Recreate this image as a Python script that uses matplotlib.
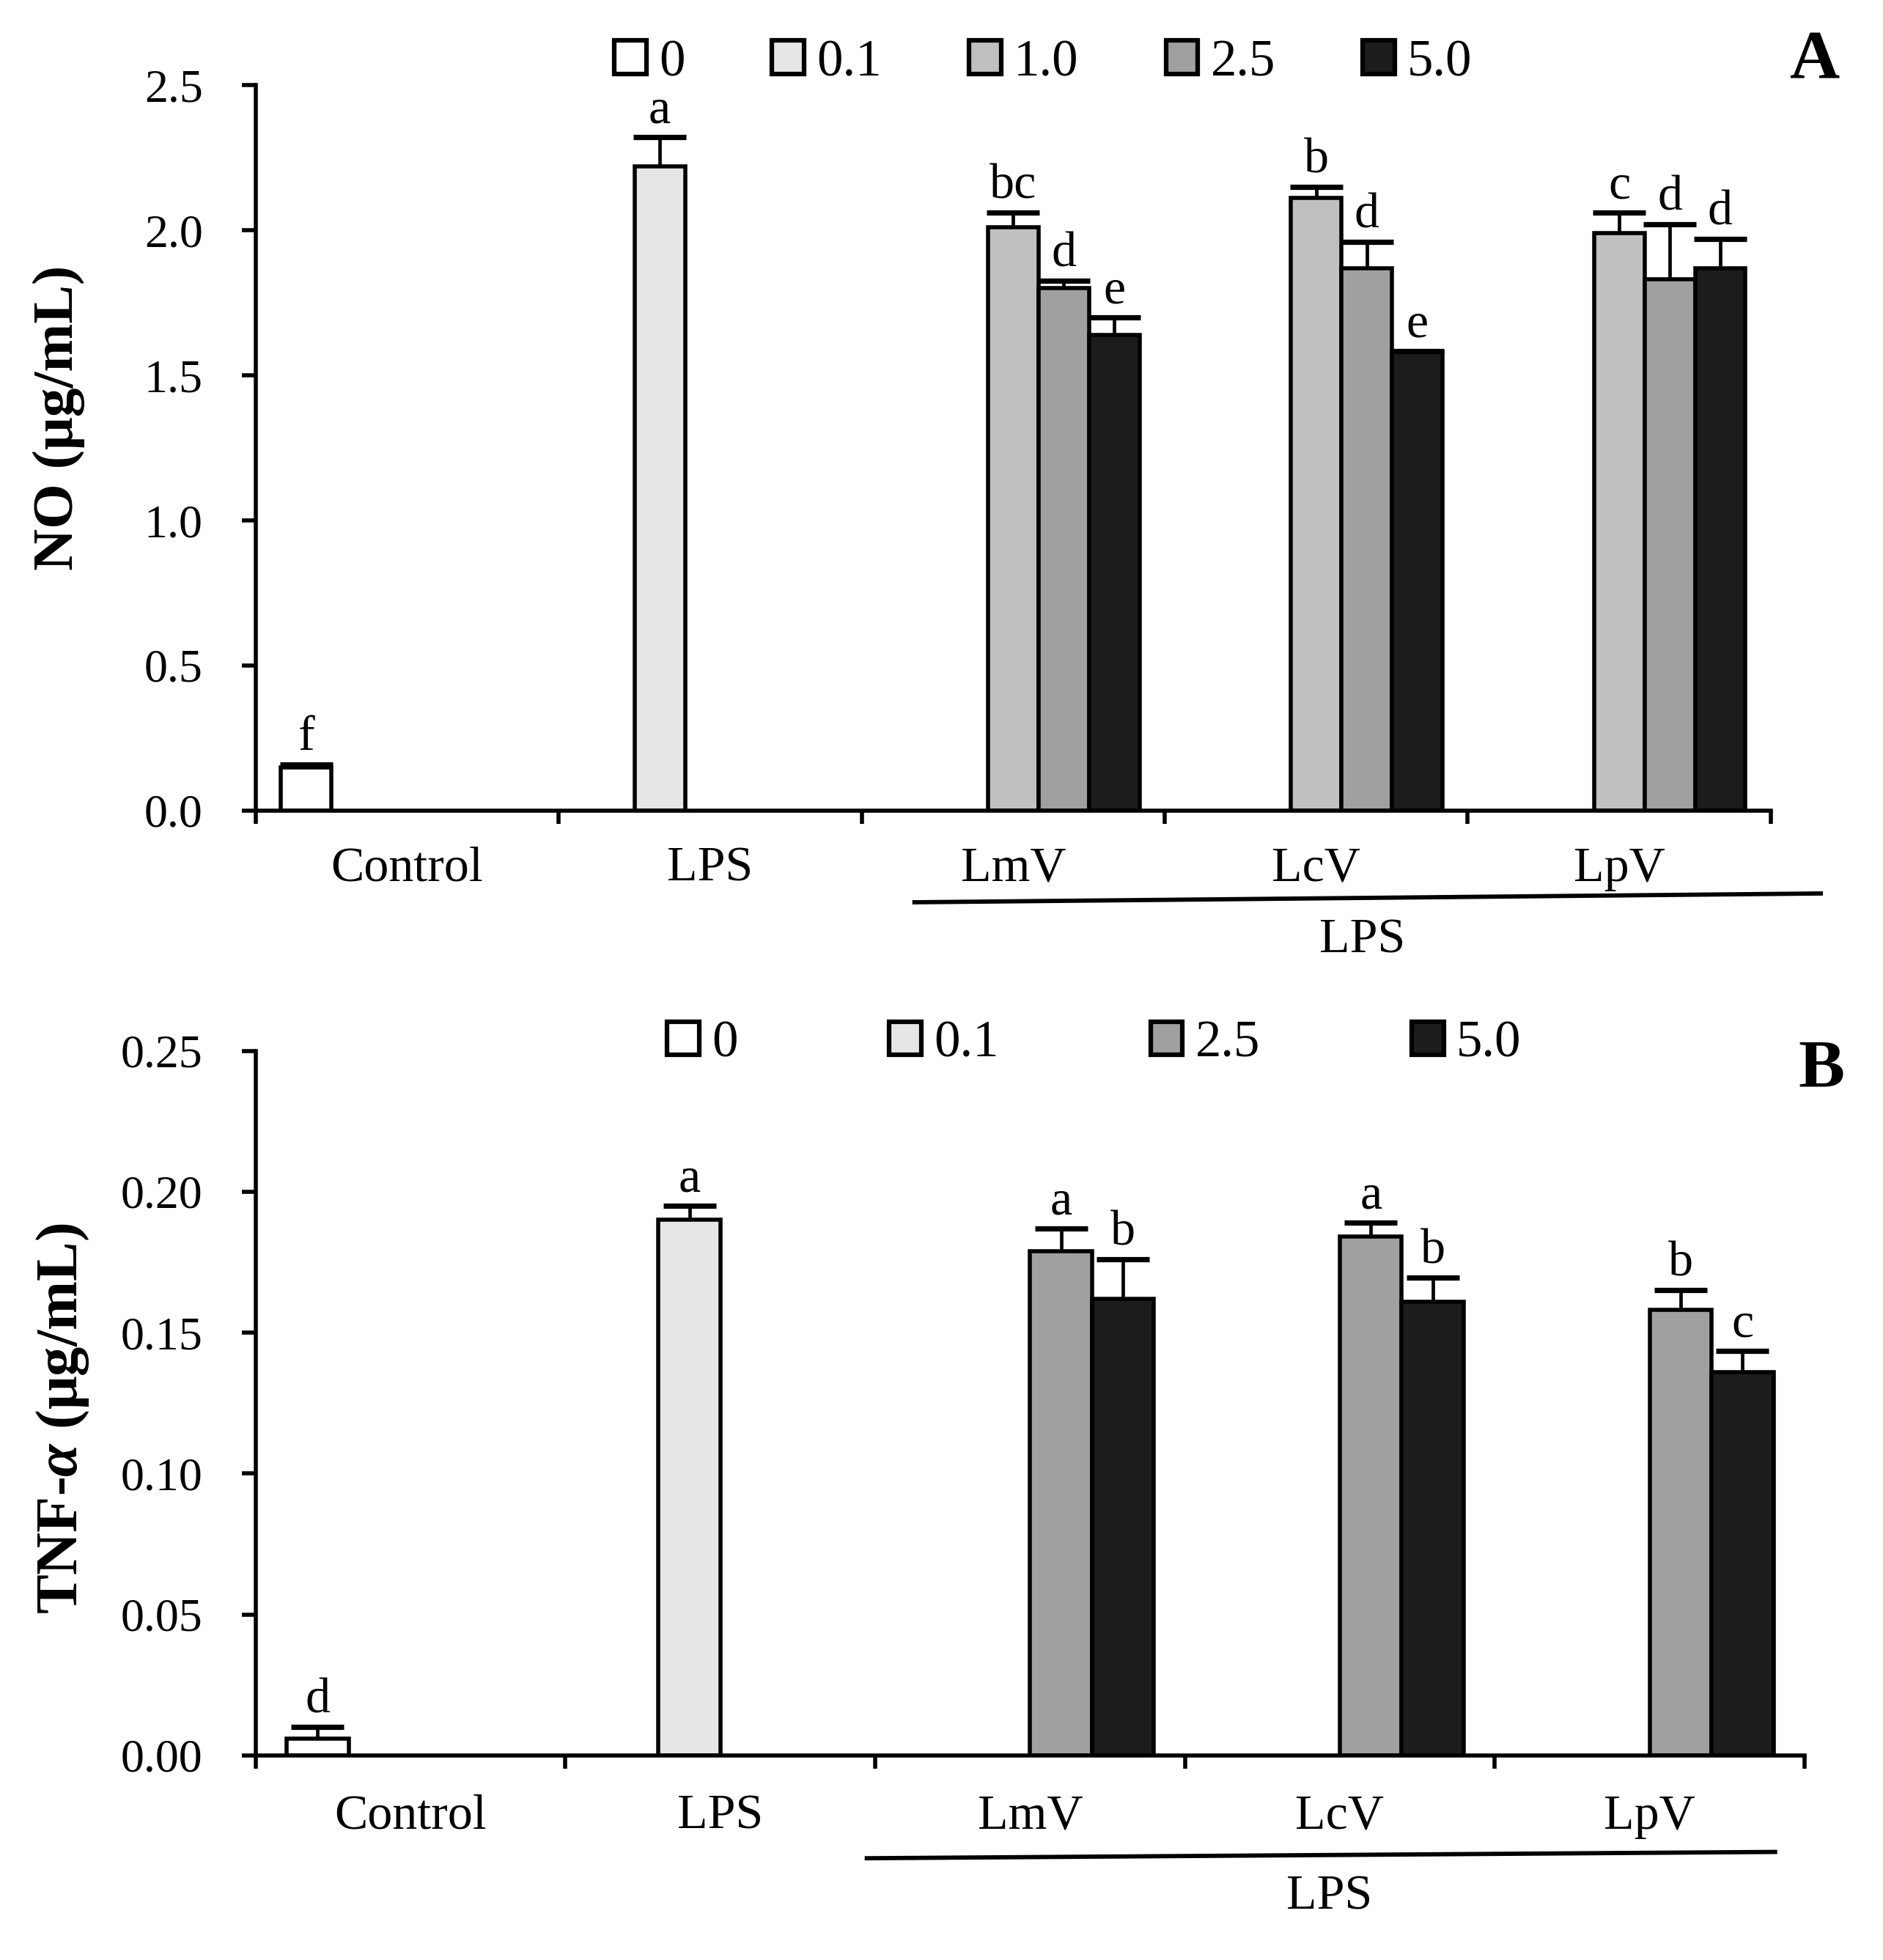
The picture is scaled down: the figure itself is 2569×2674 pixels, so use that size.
import numpy as np
import matplotlib
matplotlib.use("Agg")
import matplotlib.pyplot as plt
from matplotlib.patches import Patch

plt.rcParams['font.family'] = ['Liberation Serif', 'DejaVu Serif']
plt.rcParams['mathtext.fontset'] = 'custom'
plt.rcParams['mathtext.rm'] = 'Liberation Serif:bold'
plt.rcParams['mathtext.it'] = 'Liberation Serif:bold:italic'
plt.rcParams['mathtext.bf'] = 'Liberation Serif:bold'

nan = np.nan

# ---------------- data ----------------
categories = ['Control', 'LPS', 'LmV', 'LcV', 'LpV']

# Panel A: NO (ug/mL)
no_doses = ['0', '0.1', '1.0', '2.5', '5.0']
no_d0 = [0.15, nan, nan, nan, nan]
no_d01 = [nan, 2.22, nan, nan, nan]
no_d10 = [nan, nan, 2.01, 2.11, 1.99]
no_d25 = [nan, nan, 1.80, 1.87, 1.83]
no_d50 = [nan, nan, 1.64, 1.58, 1.87]
no_e0 = [0.01, nan, nan, nan, nan]
no_e01 = [nan, 0.10, nan, nan, nan]
no_e10 = [nan, nan, 0.05, 0.04, 0.07]
no_e25 = [nan, nan, 0.025, 0.09, 0.19]
no_e50 = [nan, nan, 0.06, 0.003, 0.10]
no_l0 = ['f', '', '', '', '']
no_l01 = ['', 'a', '', '', '']
no_l10 = ['', '', 'bc', 'b', 'c']
no_l25 = ['', '', 'd', 'd', 'd']
no_l50 = ['', '', 'e', 'e', 'd']
no_ticks = [0.0, 0.5, 1.0, 1.5, 2.0, 2.5]

# Panel B: TNF-alpha (ug/mL)
tnf_doses = ['0', '0.1', '2.5', '5.0']
tnf_d0 = [0.006, nan, nan, nan, nan]
tnf_d01 = [nan, 0.190, nan, nan, nan]
tnf_d25 = [nan, nan, 0.179, 0.184, 0.158]
tnf_d50 = [nan, nan, 0.162, 0.161, 0.136]
tnf_e0 = [0.004, nan, nan, nan, nan]
tnf_e01 = [nan, 0.005, nan, nan, nan]
tnf_e25 = [nan, nan, 0.008, 0.005, 0.007]
tnf_e50 = [nan, nan, 0.014, 0.0085, 0.0075]
tnf_l0 = ['d', '', '', '', '']
tnf_l01 = ['', 'a', '', '', '']
tnf_l25 = ['', '', 'a', 'a', 'b']
tnf_l50 = ['', '', 'b', 'b', 'c']
tnf_ticks = [0.00, 0.05, 0.10, 0.15, 0.20, 0.25]

# ---------------- style ----------------
col_map = {'0': '#ffffff', '0.1': '#e6e6e6', '1.0': '#c0c0c0',
           '2.5': '#a0a0a0', '5.0': '#1c1c1c'}
LW = 4.0
FS_TICK = 46
FS_CAT = 49
FS_LET = 49
FS_LEG = 51

fig = plt.figure(figsize=(25.69, 26.74), dpi=100)
axA = fig.add_axes([0.1358, 0.5864, 0.8046, 0.3702])
axB = fig.add_axes([0.1358, 0.1044, 0.8225, 0.3595])


def draw_panel(ax, doses, vals, errs, lets, ticks, fmt, leg_anchor, colspace,
               line_xy, lps_xy, catpad):
    n = len(doses)
    w = 1.0 / (n + 1)
    xc = np.arange(len(categories))
    for i, d in enumerate(doses):
        v = np.array(vals[i], dtype=float)
        e = np.array(errs[i], dtype=float)
        m = ~np.isnan(v)
        xs = xc[m] - 0.5 + w * (i + 1)
        ax.bar(xs, v[m], width=w, color=col_map[d], edgecolor='black',
               linewidth=LW, zorder=2)
        eb = ax.errorbar(xs, v[m], yerr=[np.zeros(m.sum()), e[m]], fmt='none',
                         ecolor='black', elinewidth=3.4, capsize=26,
                         capthick=5.2, zorder=3)
        caps = eb[1]
        if len(caps) == 2:
            caps[0].set_visible(False)
        for x, top, lab in zip(xs, v[m] + e[m], np.array(lets[i])[m]):
            if lab:
                ax.annotate(lab, xy=(x, top), xytext=(0, 14),
                            textcoords='offset points', ha='center',
                            va='baseline', fontsize=FS_LET)
    ax.set_xlim(-0.5, len(categories) - 0.5)
    ax.set_ylim(ticks[0], ticks[-1])
    ax.set_yticks(ticks)
    ax.set_yticklabels([fmt.format(t) for t in ticks])
    ax.set_xticks(np.arange(len(categories) + 1) - 0.5)
    ax.set_xticklabels([])
    ax.set_xticks(xc, minor=True)
    ax.set_xticklabels(categories, minor=True)
    for s in ['top', 'right']:
        ax.spines[s].set_visible(False)
    for s in ['left', 'bottom']:
        ax.spines[s].set_linewidth(LW)
    ax.tick_params(axis='y', direction='out', length=14, width=LW,
                   pad=38, labelsize=FS_TICK)
    ax.tick_params(axis='x', which='major', direction='out', length=13,
                   width=LW)
    ax.tick_params(axis='x', which='minor', length=0, pad=catpad,
                   labelsize=FS_CAT)
    # legend
    handles = [Patch(facecolor=col_map[d], edgecolor='black', linewidth=4.5)
               for d in doses]
    ax.legend(handles, doses, loc='center left', bbox_to_anchor=leg_anchor,
              bbox_transform=fig.transFigure, ncol=n, frameon=False,
              borderpad=0, borderaxespad=0, handlelength=0.62,
              handleheight=0.62, handletextpad=0.24, columnspacing=colspace,
              fontsize=FS_LEG)
    # group line + LPS label
    tr = ax.get_xaxis_transform()
    ax.plot(line_xy[0], line_xy[1], color='black', linewidth=4.2,
            transform=tr, clip_on=False, solid_capstyle='butt')
    ax.text(lps_xy[0], lps_xy[1], 'LPS', transform=tr, ha='center',
            va='baseline', fontsize=FS_CAT)


draw_panel(axA, no_doses,
           [no_d0, no_d01, no_d10, no_d25, no_d50],
           [no_e0, no_e01, no_e10, no_e25, no_e50],
           [no_l0, no_l01, no_l10, no_l25, no_l50],
           no_ticks, '{:.1f}', (0.3262, 0.968), 1.68,
           ([1.667, 4.672], [-0.1263, -0.1141]), (3.153, -0.196), 35)

draw_panel(axB, tnf_doses,
           [tnf_d0, tnf_d01, tnf_d25, tnf_d50],
           [tnf_e0, tnf_e01, tnf_e25, tnf_e50],
           [tnf_l0, tnf_l01, tnf_l25, tnf_l50],
           tnf_ticks, '{:.2f}', (0.3542, 0.4675), 2.92,
           ([1.466, 4.412], [-0.146, -0.137]), (2.967, -0.218), 38)

fig.text(80 / 2569, 1 - 570 / 2674, 'NO (μg/mL)', rotation=90, ha='center',
         va='center', fontsize=57, fontweight='bold')
fig.text(86 / 2569, 1 - 1935 / 2674, r'TNF-$\alpha$ (μg/mL)', rotation=90,
         ha='center', va='center', fontsize=58, fontweight='bold')
fig.text(2475 / 2569, 1 - 84 / 2674, 'A', ha='center', va='center',
         fontsize=68, fontweight='bold')
fig.text(2485 / 2569, 1 - 1460 / 2674, 'B', ha='center', va='center',
         fontsize=68, fontweight='bold')

fig.savefig('out.png', dpi=100)
